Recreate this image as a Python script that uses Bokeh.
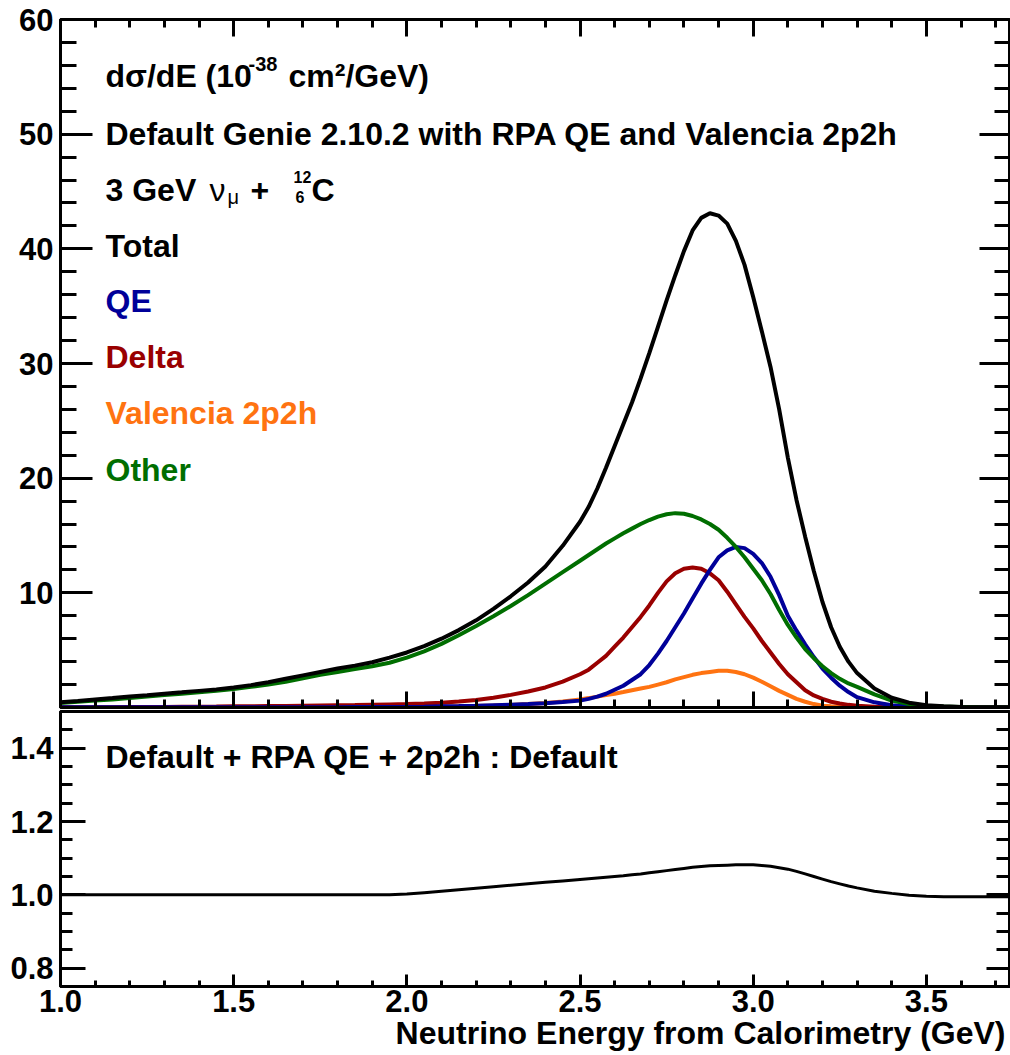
from bokeh.plotting import figure
from bokeh.models import Range1d, LinearAxis, FixedTicker, Label, Title, NumeralTickFormatter, CustomJSTickFormatter
from bokeh.layouts import column
from bokeh.embed import file_html
from bokeh.resources import INLINE

# ---------------- data ----------------
energy = [1.00, 1.05, 1.10, 1.15, 1.20, 1.25, 1.30, 1.35, 1.40, 1.45,
          1.50, 1.55, 1.60, 1.65, 1.70, 1.75, 1.80, 1.85, 1.90, 1.95,
          2.00, 2.05, 2.10, 2.15, 2.20, 2.25, 2.30, 2.35, 2.40, 2.45,
          2.500, 2.525, 2.550, 2.575, 2.600, 2.625, 2.650, 2.675, 2.700, 2.725,
          2.750, 2.775, 2.800, 2.825, 2.850, 2.875, 2.900, 2.925, 2.950, 2.975,
          3.000, 3.025, 3.050, 3.075, 3.100, 3.125, 3.150, 3.175, 3.200, 3.225,
          3.250, 3.275, 3.300,
          3.35, 3.40, 3.45, 3.50, 3.55, 3.60, 3.65, 3.70, 3.75]

total = [0.45, 0.57, 0.70, 0.82, 0.95, 1.07, 1.20, 1.32, 1.45, 1.58,
         1.75, 1.95, 2.20, 2.50, 2.80, 3.10, 3.40, 3.65, 3.95, 4.35,
         4.80, 5.35, 6.00, 6.75, 7.60, 8.60, 9.70, 10.9, 12.3, 14.1,
         16.2, 17.5, 19.1, 20.9, 22.8, 24.7, 26.6, 28.7, 30.9, 33.2,
         35.5, 37.7, 39.8, 41.6, 42.7, 43.1, 42.9, 42.2, 40.7, 38.6,
         35.8, 32.8, 29.7, 26.0, 21.8, 18.1, 14.9, 11.9, 9.20, 7.00,
         5.30, 4.00, 3.00,
         1.65, 0.85, 0.42, 0.20, 0.10, 0.05, 0.03, 0.02, 0.01]

qe = [0.02, 0.02, 0.02, 0.02, 0.02, 0.02, 0.02, 0.02, 0.02, 0.02,
      0.02, 0.02, 0.02, 0.03, 0.03, 0.03, 0.03, 0.04, 0.04, 0.05,
      0.05, 0.07, 0.10, 0.12, 0.15, 0.20, 0.25, 0.30, 0.38, 0.47,
      0.60, 0.75, 0.95, 1.20, 1.55, 1.90, 2.40, 2.90, 3.70, 4.70,
      5.80, 7.00, 8.20, 9.50, 10.8, 12.0, 13.1, 13.7, 14.0, 13.9,
      13.4, 12.6, 11.4, 9.80, 8.00, 6.70, 5.50, 4.40, 3.40, 2.60,
      1.90, 1.35, 0.90,
      0.45, 0.20, 0.08, 0.03, 0.01, 0.0, 0.0, 0.0, 0.0]

delta = [0.02, 0.02, 0.03, 0.03, 0.04, 0.05, 0.05, 0.06, 0.07, 0.08,
         0.10, 0.11, 0.12, 0.13, 0.15, 0.17, 0.19, 0.21, 0.24, 0.27,
         0.30, 0.35, 0.42, 0.52, 0.65, 0.85, 1.10, 1.40, 1.75, 2.25,
         2.90, 3.30, 3.90, 4.50, 5.30, 6.10, 7.00, 7.90, 8.90, 10.0,
         11.0, 11.7, 12.1, 12.2, 12.1, 11.7, 11.1, 10.1, 9.00, 7.90,
         6.90, 5.80, 4.80, 3.80, 2.90, 2.20, 1.50, 1.05, 0.75, 0.50,
         0.35, 0.23, 0.15,
         0.06, 0.02, 0.01, 0.0, 0.0, 0.0, 0.0, 0.0, 0.0]

valencia = [0.01, 0.01, 0.01, 0.01, 0.01, 0.02, 0.02, 0.02, 0.02, 0.02,
            0.03, 0.03, 0.03, 0.03, 0.03, 0.04, 0.04, 0.04, 0.04, 0.05,
            0.05, 0.06, 0.08, 0.10, 0.13, 0.17, 0.22, 0.30, 0.40, 0.52,
            0.70, 0.82, 0.95, 1.08, 1.20, 1.35, 1.50, 1.65, 1.80, 2.00,
            2.20, 2.45, 2.65, 2.85, 3.00, 3.10, 3.20, 3.20, 3.10, 2.90,
            2.60, 2.25, 1.85, 1.45, 1.10, 0.75, 0.50, 0.30, 0.15, 0.10,
            0.06, 0.04, 0.02,
            0.01, 0.0, 0.0, 0.0, 0.0, 0.0, 0.0, 0.0, 0.0]

other = [0.40, 0.50, 0.60, 0.70, 0.82, 0.95, 1.08, 1.20, 1.33, 1.47,
         1.62, 1.80, 2.00, 2.25, 2.55, 2.85, 3.10, 3.35, 3.60, 3.90,
         4.35, 4.90, 5.55, 6.30, 7.10, 7.95, 8.85, 9.80, 10.8, 11.8,
         12.8, 13.3, 13.8, 14.3, 14.75, 15.2, 15.6, 16.0, 16.35, 16.65,
         16.85, 16.95, 16.9, 16.7, 16.4, 16.0, 15.5, 14.8, 14.0, 13.1,
         12.1, 11.1, 9.90, 8.50, 7.20, 6.10, 5.10, 4.30, 3.60, 3.00,
         2.50, 2.10, 1.80,
         1.15, 0.60, 0.30, 0.15, 0.08, 0.04, 0.02, 0.01, 0.0]

ratio = [1.000, 1.000, 1.000, 1.000, 1.000, 1.000, 1.000, 1.000, 1.000, 1.000,
         1.000, 1.000, 1.000, 1.000, 1.000, 1.000, 1.000, 1.000, 1.000, 1.000,
         1.002, 1.006, 1.010, 1.014, 1.018, 1.022, 1.026, 1.030, 1.034, 1.038,
         1.042, 1.044, 1.046, 1.048, 1.050, 1.052, 1.055, 1.057, 1.060, 1.063,
         1.066, 1.069, 1.072, 1.075, 1.077, 1.079, 1.080, 1.081, 1.082, 1.082,
         1.082, 1.080, 1.078, 1.074, 1.070, 1.064, 1.057, 1.050, 1.043, 1.036,
         1.030, 1.024, 1.019,
         1.010, 1.004, 0.999, 0.996, 0.995, 0.995, 0.995, 0.995, 0.995]

series_names = ["Total", "QE", "Delta", "Valencia 2p2h", "Other"]
series_colors = ["#000000", "#000099", "#990000", "#ff7311", "#006e00"]

x_major = [1.0, 1.5, 2.0, 2.5, 3.0, 3.5]
x_minor = [1.1, 1.2, 1.3, 1.4, 1.6, 1.7, 1.8, 1.9, 2.1, 2.2, 2.3, 2.4,
           2.6, 2.7, 2.8, 2.9, 3.1, 3.2, 3.3, 3.4, 3.6, 3.7]
y_top_major = [10, 20, 30, 40, 50, 60]
y_top_minor = [2, 4, 6, 8, 12, 14, 16, 18, 22, 24, 26, 28, 32, 34, 36, 38,
               42, 44, 46, 48, 52, 54, 56, 58]
y_bot_major = [0.8, 1.0, 1.2, 1.4]
y_bot_minor = [0.75, 0.85, 0.9, 0.95, 1.05, 1.1, 1.15, 1.25, 1.3, 1.35, 1.45, 1.5]

x_title = "Neutrino Energy from Calorimetry (GeV)"

FONT = "Liberation Sans"
TICK_FS = "31px"
TEXT_FS = "32px"

blank = CustomJSTickFormatter(code="return ''")


def style_axis(ax, major_in, minor_in, labels, fmt=None, standoff=6):
    ax.axis_line_width = 3
    ax.axis_line_color = "black"
    ax.major_tick_in = major_in
    ax.major_tick_out = 0
    ax.minor_tick_in = minor_in
    ax.minor_tick_out = 0
    ax.major_tick_line_width = 3
    ax.minor_tick_line_width = 3
    if labels:
        ax.major_label_text_font = FONT
        ax.major_label_text_font_style = "bold"
        ax.major_label_text_font_size = TICK_FS
        ax.major_label_text_color = "black"
        ax.major_label_standoff = standoff
        if fmt is not None:
            ax.formatter = fmt
    else:
        ax.formatter = blank
        ax.major_label_text_font_size = "0px"
        ax.major_label_standoff = 0


x_range = Range1d(1.0, 3.74)

# ---------------- top panel ----------------
top = figure(width=1010, height=709, x_range=x_range, y_range=Range1d(0, 60),
             output_backend="svg", toolbar_location=None,
             min_border_left=60, min_border_right=1, min_border_top=19, min_border_bottom=2)
top.xgrid.visible = False
top.ygrid.visible = False
top.outline_line_color = "black"
top.outline_line_width = 3
top.background_fill_color = "white"
top.border_fill_color = "white"

top.xaxis.ticker = FixedTicker(ticks=x_major, minor_ticks=x_minor)
style_axis(top.xaxis[0], 16, 8, False)
top.yaxis.ticker = FixedTicker(ticks=y_top_major, minor_ticks=y_top_minor)
style_axis(top.yaxis[0], 32, 16, True, standoff=7)

ax_above = LinearAxis(ticker=FixedTicker(ticks=x_major, minor_ticks=x_minor))
style_axis(ax_above, 17, 8, False)
top.add_layout(ax_above, "above")
ax_right = LinearAxis(ticker=FixedTicker(ticks=y_top_major, minor_ticks=y_top_minor))
style_axis(ax_right, 30, 15, False)
top.add_layout(ax_right, "right")

curves = [total, qe, delta, valencia, other]
draw_order = [3, 2, 1, 4, 0]
for i in draw_order:
    top.line(energy, curves[i], line_color=series_colors[i], line_width=4)


def add_label(p, text, x_off, y, size=TEXT_FS, color="black", style="bold", y_off=0):
    p.add_layout(Label(x=1.0, y=y, x_offset=x_off, y_offset=y_off, text=text,
                       text_font=FONT, text_font_style=style, text_font_size=size,
                       text_color=color, text_align="left", text_baseline="alphabetic"))


# header lines
add_label(top, "d\u03c3/dE (10", 45, 55.05)
add_label(top, "-38", 188, 55.05, size="20px", y_off=12)
add_label(top, "cm\u00b2/GeV)", 228, 55.05)
add_label(top, "Default Genie 2.10.2 with RPA QE and Valencia 2p2h", 45, 50.05)
add_label(top, "3 GeV", 45, 45.15)
add_label(top, "\u03bd", 149, 45.15, size="32px", style="normal")
add_label(top, "\u03bc", 167, 45.15, size="20px", style="normal", y_off=-7)
add_label(top, "+", 190, 45.15)
add_label(top, "12", 233, 45.15, size="16px", y_off=13)
add_label(top, "6", 235, 45.15, size="16px", y_off=-7)
add_label(top, "C", 251, 45.15)

legend_y = [40.25, 35.45, 30.55, 25.65, 20.75]
for name, col, yy in zip(series_names, series_colors, legend_y):
    add_label(top, name, 45, yy, color=col)

# ---------------- bottom (ratio) panel ----------------
bot = figure(width=1010, height=346, x_range=x_range, y_range=Range1d(0.75, 1.5),
             output_backend="svg", toolbar_location=None,
             min_border_left=60, min_border_right=1, min_border_top=2, min_border_bottom=69)
bot.xgrid.visible = False
bot.ygrid.visible = False
bot.outline_line_color = "black"
bot.outline_line_width = 3
bot.background_fill_color = "white"
bot.border_fill_color = "white"

bot.xaxis.ticker = FixedTicker(ticks=x_major, minor_ticks=x_minor)
style_axis(bot.xaxis[0], 12, 6, True, fmt=NumeralTickFormatter(format="0.0"), standoff=3)
bot.yaxis.ticker = FixedTicker(ticks=y_bot_major, minor_ticks=y_bot_minor)
style_axis(bot.yaxis[0], 25, 12, True, fmt=NumeralTickFormatter(format="0.0"), standoff=7)
ax_right2 = LinearAxis(ticker=FixedTicker(ticks=y_bot_major, minor_ticks=y_bot_minor))
style_axis(ax_right2, 23, 13, False)
bot.add_layout(ax_right2, "right")

# x-axis title, right-aligned under the axis (ROOT style)
bot.add_layout(Title(text=x_title, align="right", offset=4, standoff=0,
                     vertical_align="top", text_font=FONT, text_font_style="bold",
                     text_font_size=TEXT_FS, text_color="black"), "below")

bot.line(energy, ratio, line_color="black", line_width=3)

add_label(bot, "Default + RPA QE + 2p2h : Default", 45, 1.377)

layout = column(top, bot, spacing=0)
open("out.html", "w").write(file_html(layout, INLINE))
